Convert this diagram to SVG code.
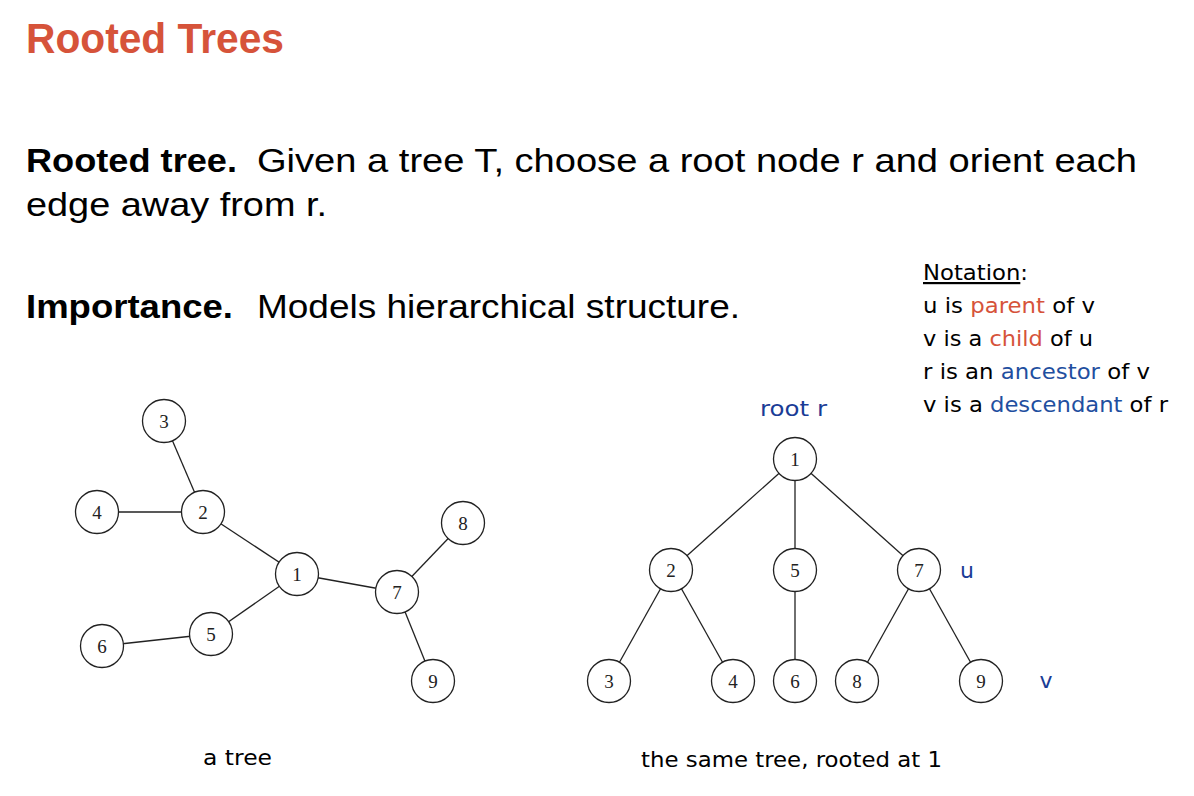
<svg xmlns="http://www.w3.org/2000/svg" width="1194" height="796" viewBox="0 0 1194 796">
  <style>
    .title { font-family: "Liberation Sans", Arial, sans-serif; font-weight: bold; font-size: 42px; fill: #D6533A; }
    .body { font-family: "Liberation Sans", Arial, sans-serif; font-size: 33px; fill: #000; }
    .bold { font-weight: bold; }
    .note { font-family: "DejaVu Sans", sans-serif; font-size: 22px; fill: #000; }
    .red { fill: #D6533A; }
    .blue { fill: #1F4FA0; }
    .cap { font-family: "DejaVu Sans", sans-serif; font-size: 22px; fill: #000; }
    .lbl { font-family: "DejaVu Sans", sans-serif; font-size: 22px; fill: #1A3C96; }
    .node circle { fill: #fff; stroke: #222; stroke-width: 1.3; }
    .node text { font-family: "Liberation Serif", "Times New Roman", serif; font-size: 19px; fill: #222; text-anchor: middle; }
    .edges line { stroke: #222; stroke-width: 1.3; }
  </style>

  <text class="title" x="26" y="53" textLength="258" lengthAdjust="spacingAndGlyphs">Rooted Trees</text>

  <!-- body paragraphs -->
  <text class="body bold" x="26" y="172" textLength="211" lengthAdjust="spacingAndGlyphs">Rooted tree.</text>
  <text class="body" x="257" y="172" textLength="880" lengthAdjust="spacingAndGlyphs">Given a tree T, choose a root node r and orient each</text>
  <text class="body" x="26" y="216" textLength="301" lengthAdjust="spacingAndGlyphs">edge away from r.</text>
  <text class="body bold" x="26" y="318" textLength="207" lengthAdjust="spacingAndGlyphs">Importance.</text>
  <text class="body" x="257" y="318" textLength="483" lengthAdjust="spacingAndGlyphs">Models hierarchical structure.</text>

  <!-- notation box -->
  <g id="notation">
    <text class="note" x="923" y="280" textLength="105" lengthAdjust="spacingAndGlyphs"><tspan text-decoration="underline">Notation</tspan>:</text>
    <text class="note" x="923" y="313" textLength="172" lengthAdjust="spacingAndGlyphs">u is <tspan class="red">parent</tspan> of v</text>
    <text class="note" x="923" y="346" textLength="170" lengthAdjust="spacingAndGlyphs">v is a <tspan class="red">child</tspan> of u</text>
    <text class="note" x="923" y="379" textLength="227" lengthAdjust="spacingAndGlyphs">r is an <tspan class="blue">ancestor</tspan> of v</text>
    <text class="note" x="923" y="412" textLength="245" lengthAdjust="spacingAndGlyphs">v is a <tspan class="blue">descendant</tspan> of r</text>
  </g>

  <!-- unrooted tree: edges -->
  <g id="edges-left" class="edges">
    <line x1="164" y1="421" x2="203" y2="512"/>
    <line x1="97" y1="512" x2="203" y2="512"/>
    <line x1="203" y1="512" x2="297" y2="574"/>
    <line x1="297" y1="574" x2="397" y2="592"/>
    <line x1="297" y1="574" x2="211" y2="634"/>
    <line x1="211" y1="634" x2="102" y2="646"/>
    <line x1="397" y1="592" x2="463" y2="523"/>
    <line x1="397" y1="592" x2="433" y2="681"/>
  </g>

  <g id="L1" class="node"><circle cx="297" cy="574" r="21.5"/><text x="297" y="581">1</text></g>
  <g id="L2" class="node"><circle cx="203" cy="512" r="21.5"/><text x="203" y="519">2</text></g>
  <g id="L3" class="node"><circle cx="164" cy="421" r="21.5"/><text x="164" y="428">3</text></g>
  <g id="L4" class="node"><circle cx="97" cy="512" r="21.5"/><text x="97" y="519">4</text></g>
  <g id="L5" class="node"><circle cx="211" cy="634" r="21.5"/><text x="211" y="641">5</text></g>
  <g id="L6" class="node"><circle cx="102" cy="646" r="21.5"/><text x="102" y="653">6</text></g>
  <g id="L7" class="node"><circle cx="397" cy="592" r="21.5"/><text x="397" y="599">7</text></g>
  <g id="L8" class="node"><circle cx="463" cy="523" r="21.5"/><text x="463" y="530">8</text></g>
  <g id="L9" class="node"><circle cx="433" cy="681" r="21.5"/><text x="433" y="688">9</text></g>

  <!-- rooted tree: edges -->
  <g id="edges-right" class="edges">
    <line x1="795" y1="459" x2="671" y2="570"/>
    <line x1="795" y1="459" x2="795" y2="570"/>
    <line x1="795" y1="459" x2="919" y2="570"/>
    <line x1="671" y1="570" x2="609" y2="681"/>
    <line x1="671" y1="570" x2="733" y2="681"/>
    <line x1="795" y1="570" x2="795" y2="681"/>
    <line x1="919" y1="570" x2="857" y2="681"/>
    <line x1="919" y1="570" x2="981" y2="681"/>
  </g>

  <g id="R1" class="node"><circle cx="795" cy="459" r="21.5"/><text x="795" y="466">1</text></g>
  <g id="R2" class="node"><circle cx="671" cy="570" r="21.5"/><text x="671" y="577">2</text></g>
  <g id="R5" class="node"><circle cx="795" cy="570" r="21.5"/><text x="795" y="577">5</text></g>
  <g id="R7" class="node"><circle cx="919" cy="570" r="21.5"/><text x="919" y="577">7</text></g>
  <g id="R3" class="node"><circle cx="609" cy="681" r="21.5"/><text x="609" y="688">3</text></g>
  <g id="R4" class="node"><circle cx="733" cy="681" r="21.5"/><text x="733" y="688">4</text></g>
  <g id="R6" class="node"><circle cx="795" cy="681" r="21.5"/><text x="795" y="688">6</text></g>
  <g id="R8" class="node"><circle cx="857" cy="681" r="21.5"/><text x="857" y="688">8</text></g>
  <g id="R9" class="node"><circle cx="981" cy="681" r="21.5"/><text x="981" y="688">9</text></g>

  <text class="lbl" x="760" y="416" textLength="67" lengthAdjust="spacingAndGlyphs">root r</text>
  <text class="lbl" x="967" y="578" text-anchor="middle">u</text>
  <text class="lbl" x="1046" y="688" text-anchor="middle">v</text>

  <text class="cap" x="203" y="765" textLength="69" lengthAdjust="spacingAndGlyphs">a tree</text>
  <text class="cap" x="641" y="767" textLength="301" lengthAdjust="spacingAndGlyphs">the same tree, rooted at 1</text>
</svg>
